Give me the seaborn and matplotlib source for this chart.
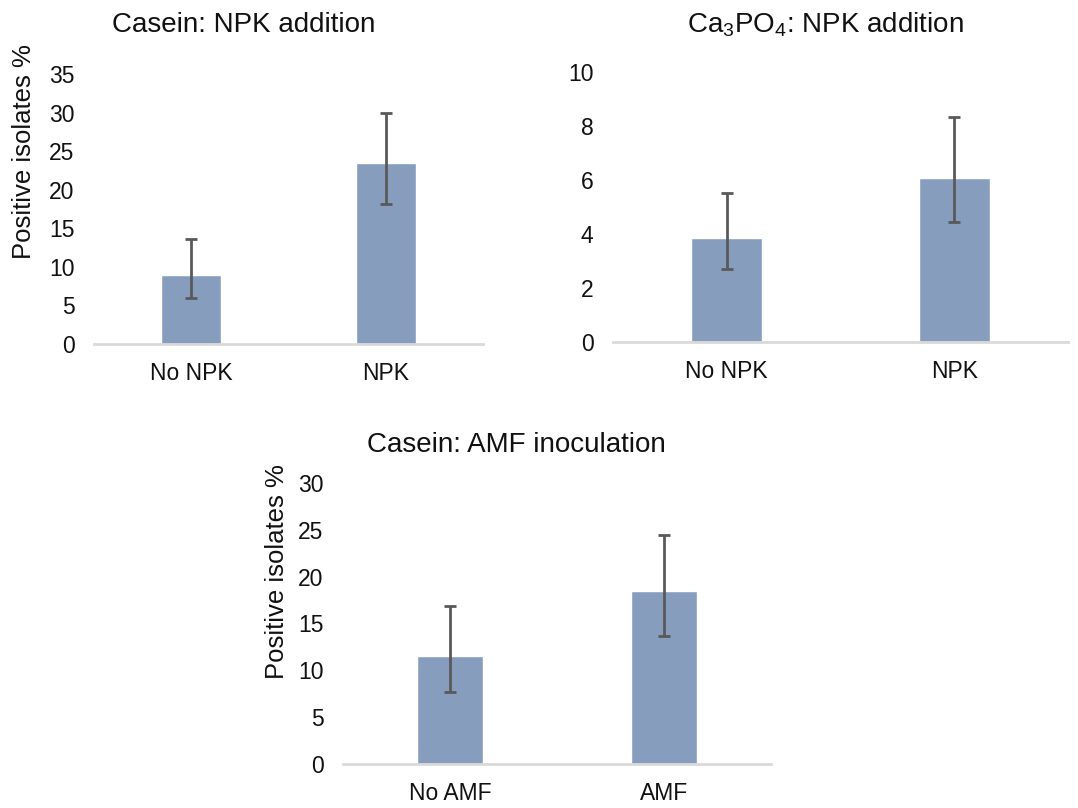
import matplotlib
matplotlib.use("Agg")
import matplotlib.pyplot as plt
import seaborn as sns
import pandas as pd
import numpy as np

sns.set_theme(style="white")
plt.rcParams['font.family'] = ['Liberation Sans', 'DejaVu Sans']
plt.rcParams['mathtext.fontset'] = 'custom'
plt.rcParams['mathtext.rm'] = 'Liberation Sans'
plt.rcParams['mathtext.it'] = 'Liberation Sans:italic'
plt.rcParams['text.color'] = '#111111'

# Data
cats1 = ["No NPK", "NPK"]
vals1 = [9.0, 23.4]
lo1 = [5.9, 18.2]
hi1 = [13.6, 29.9]

cats2 = ["No NPK", "NPK"]
vals2 = [3.87, 6.09]
lo2 = [2.70, 4.44]
hi2 = [5.53, 8.33]

cats3 = ["No AMF", "AMF"]
vals3 = [11.5, 18.5]
lo3 = [7.7, 13.7]
hi3 = [16.9, 24.4]

titles = ["Casein: NPK addition",
          r"Ca$_\mathregular{3}$PO$_\mathregular{4}$: NPK addition",
          "Casein: AMF inoculation"]
yticks1 = [0, 5, 10, 15, 20, 25, 30, 35]
yticks2 = [0, 2, 4, 6, 8, 10]
yticks3 = [0, 5, 10, 15, 20, 25, 30]

BAR = "#879DBE"
ERR = "#595959"
AXC = "#D9D9D9"

W, H = 1078, 808
fig = plt.figure(figsize=(W / 100, H / 100), dpi=100)

def px_axes(l, r, t, b):
    return fig.add_axes([l / W, 1 - b / H, (r - l) / W, (b - t) / H])

def panel(ax, cats, vals, lo, hi, yticks):
    df = pd.DataFrame({"cat": cats, "val": vals})
    sns.barplot(data=df, x="cat", y="val", ax=ax, color=BAR, saturation=1,
                width=0.31, errorbar=None)
    x = np.arange(len(cats))
    v = np.array(vals)
    yerr = np.vstack([v - np.array(lo), np.array(hi) - v])
    ax.errorbar(x, v, yerr=yerr, fmt="none", ecolor=ERR, elinewidth=2,
                capsize=4, capthick=2)
    ax.set_xlim(-0.5, len(cats) - 0.5)
    ax.set_ylim(0, yticks[-1])
    ax.set_yticks(yticks)
    ax.set_xlabel("")
    ax.set_ylabel("")
    for s in ["top", "right", "left"]:
        ax.spines[s].set_visible(False)
    ax.spines["bottom"].set_color(AXC)
    ax.spines["bottom"].set_linewidth(2)
    ax.tick_params(axis="both", length=0, labelsize=16.5, colors="#111111")
    ax.tick_params(axis="y", pad=14)
    ax.tick_params(axis="x", pad=13)
    ax.patch.set_alpha(0)

ax1 = px_axes(94, 483, 74, 344)
panel(ax1, cats1, vals1, lo1, hi1, yticks1)
ax2 = px_axes(613, 1068, 72, 342)
panel(ax2, cats2, vals2, lo2, hi2, yticks2)
ax3 = px_axes(343, 771, 483, 764)
panel(ax3, cats3, vals3, lo3, hi3, yticks3)

fig.text(244 / W, 1 - 25 / H, titles[0], ha="center", va="center", fontsize=20)
fig.text(825 / W, 1 - 25 / H, titles[1], ha="center", va="center", fontsize=20)
fig.text(516 / W, 1 - 445 / H, titles[2], ha="center", va="center", fontsize=20)

fig.text(24 / W, 1 - 152 / H, "Positive isolates %", rotation=90,
         ha="center", va="center", fontsize=18.5)
fig.text(277 / W, 1 - 572 / H, "Positive isolates %", rotation=90,
         ha="center", va="center", fontsize=18.5)

fig.savefig("out.png", dpi=100, facecolor="white")
